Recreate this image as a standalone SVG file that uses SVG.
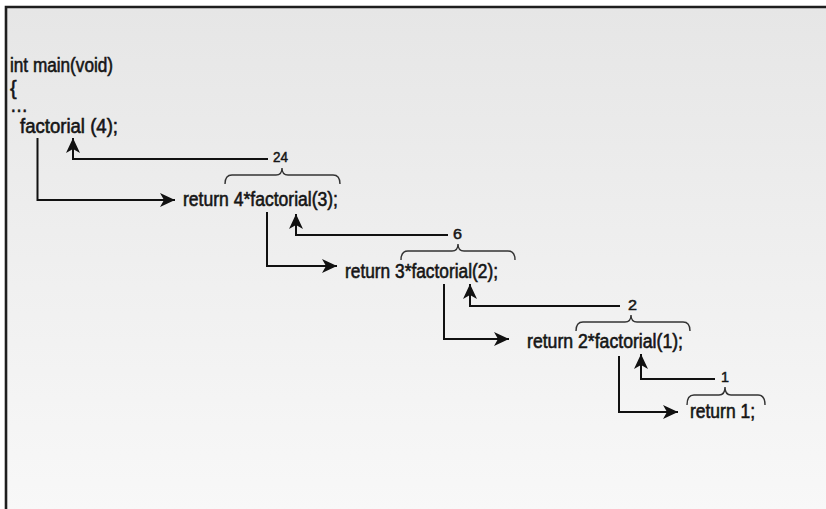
<svg xmlns="http://www.w3.org/2000/svg" width="826" height="509" viewBox="0 0 826 509">
<defs>
<linearGradient id="bg" x1="0" y1="0" x2="0" y2="1">
<stop offset="0" stop-color="#e6e6e6"/>
<stop offset="1" stop-color="#f8f8f8"/>
</linearGradient>
<marker id="ah" markerUnits="userSpaceOnUse" markerWidth="16" markerHeight="16" viewBox="0 0 16 16" refX="15" refY="8" orient="auto">
<path d="M0,1 L15,8 L0,15 L4,8 Z" fill="#111"/>
</marker>
<style>
.code{font-family:"Liberation Sans",Arial,sans-serif;font-size:20px;fill:#151515;stroke:#151515;stroke-width:0.6px}
.val{font-family:"Liberation Sans",Arial,sans-serif;font-size:14.5px;fill:#151515;stroke:#151515;stroke-width:0.5px}
.con{fill:none;stroke:#111;stroke-width:2;marker-end:url(#ah)}
.brace{fill:none;stroke:#333;stroke-width:1.4}
</style>
</defs>
<rect x="0" y="0" width="826" height="509" fill="#ffffff"/>
<rect x="6" y="7" width="822" height="504" fill="url(#bg)"/>
<path d="M6,509 L6,7 L826,7" fill="none" stroke="#1e1e1e" stroke-width="2.6"/>

<g id="main">
<text class="code" x="10" y="72" textLength="103" lengthAdjust="spacingAndGlyphs">int main(void)</text>
<text class="code" x="10" y="95">{</text>
<text class="code" x="10" y="112" textLength="18" lengthAdjust="spacingAndGlyphs">…</text>
<text class="code" x="20" y="133" textLength="98" lengthAdjust="spacingAndGlyphs">factorial (4);</text>
</g>
<g id="call3">
<text class="code" x="183" y="206" textLength="155" lengthAdjust="spacingAndGlyphs">return 4*factorial(3);</text>
<path class="brace" d="M225,184 Q225,175 232,175 L276,175 Q282,175 282,168 Q282,175 288,175 L333,175 Q340,175 340,184"/>
<text class="val" x="273" y="162" textLength="15" lengthAdjust="spacingAndGlyphs">24</text>
</g>
<g id="call2">
<text class="code" x="345" y="278" textLength="153" lengthAdjust="spacingAndGlyphs">return 3*factorial(2);</text>
<path class="brace" d="M401,260 Q401,251 408,251 L452,251 Q458,251 458,244 Q458,251 464,251 L508,251 Q515,251 515,260"/>
<text class="val" x="453" y="239" textLength="9" lengthAdjust="spacingAndGlyphs">6</text>
</g>
<g id="call1">
<text class="code" x="527" y="348" textLength="156" lengthAdjust="spacingAndGlyphs">return 2*factorial(1);</text>
<path class="brace" d="M576,331 Q576,322 583,322 L625,322 Q631,322 631,315 Q631,322 637,322 L683,322 Q690,322 690,331"/>
<text class="val" x="628" y="310" textLength="9" lengthAdjust="spacingAndGlyphs">2</text>
</g>
<g id="call0">
<text class="code" x="690" y="418" textLength="65" lengthAdjust="spacingAndGlyphs">return 1;</text>
<path class="brace" d="M687,405 Q687,395 694,395 L719,395 Q725,395 725,387 Q725,395 731,395 L758,395 Q765,395 765,405"/>
<text class="val" x="721" y="382" textLength="8" lengthAdjust="spacingAndGlyphs">1</text>
</g>

<g id="connectors">
<path class="con" d="M37.5,138 L37.5,200 L175,200"/>
<path class="con" d="M268,159 L73,159 L73,138"/>
<path class="con" d="M267,212 L267,266 L337,266"/>
<path class="con" d="M448,235 L296,235 L296,214"/>
<path class="con" d="M444,284 L444,339 L509,339"/>
<path class="con" d="M620,306 L470,306 L470,284"/>
<path class="con" d="M619,356 L619,412 L678,412"/>
<path class="con" d="M715,379 L641,379 L641,354"/>
</g>
</svg>
